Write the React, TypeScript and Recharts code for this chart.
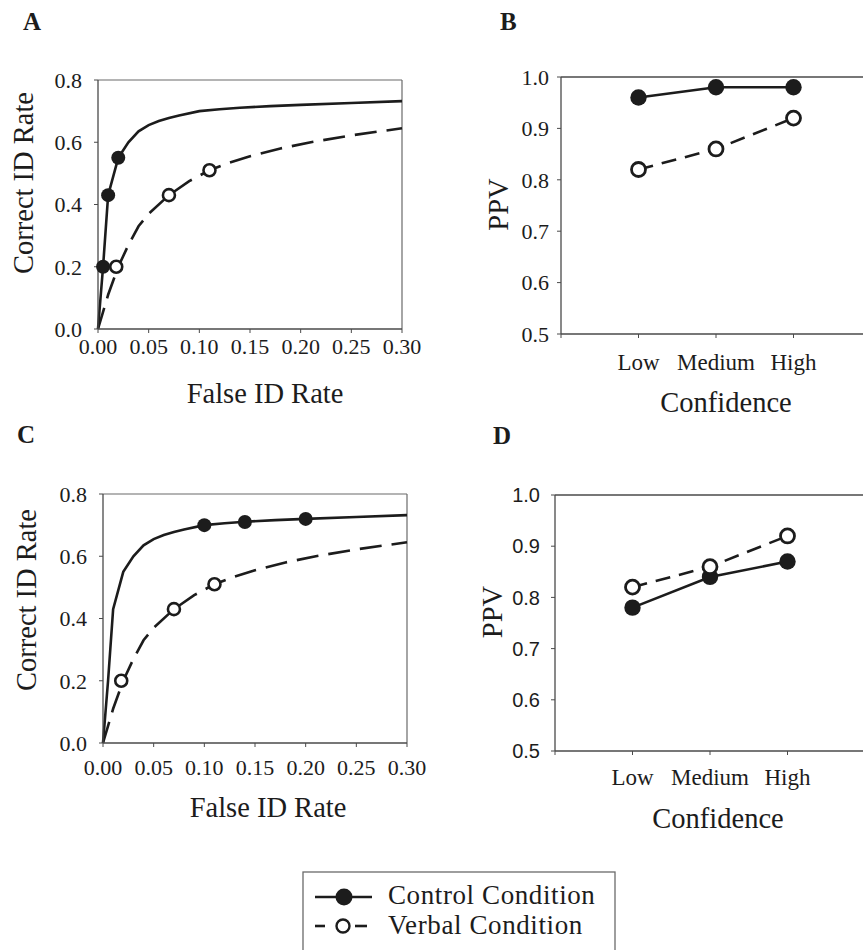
import React from "react";
import { ComposedChart, LineChart, Line, Scatter, XAxis, YAxis, ReferenceLine, Label } from "recharts";

const controlCurveFalse = [0, 0.005, 0.01, 0.02, 0.03, 0.04, 0.05, 0.06, 0.07, 0.08, 0.1, 0.12, 0.14, 0.17, 0.2, 0.25, 0.3];
const controlCurveCorrect = [0, 0.2, 0.43, 0.55, 0.6, 0.635, 0.655, 0.668, 0.678, 0.686, 0.7, 0.706, 0.711, 0.716, 0.72, 0.726, 0.732];
const verbalCurveFalse = [0, 0.005, 0.01, 0.02, 0.03, 0.04, 0.05, 0.07, 0.09, 0.11, 0.13, 0.15, 0.18, 0.21, 0.25, 0.3];
const verbalCurveCorrect = [0, 0.055, 0.11, 0.2, 0.27, 0.33, 0.37, 0.43, 0.475, 0.51, 0.535, 0.555, 0.58, 0.6, 0.622, 0.645];

// observed points
const controlFalseA = [0.005, 0.01, 0.02];
const controlCorrectA = [0.2, 0.43, 0.55];
const controlFalseC = [0.1, 0.14, 0.2];
const controlCorrectC = [0.7, 0.71, 0.72];
const verbalFalse = [0.018, 0.07, 0.11];
const verbalCorrect = [0.2, 0.43, 0.51];

// PPV by confidence
const confidenceLevels = ["Low", "Medium", "High"];
const ppvControlB = [0.96, 0.98, 0.98];
const ppvVerbalB = [0.82, 0.86, 0.92];
const ppvControlD = [0.78, 0.84, 0.87];
const ppvVerbalD = [0.82, 0.86, 0.92];

const falseRateTicks = [0, 0.05, 0.1, 0.15, 0.2, 0.25, 0.3];
const correctRateTicks = [0, 0.2, 0.4, 0.6, 0.8];
const ppvTicks = [0.5, 0.6, 0.7, 0.8, 0.9, 1.0];
const levelTicks = [0, 1, 2, 3, 4];

const SERIF = '"Liberation Serif", "Times New Roman", serif';
const SANS = '"Liberation Sans", Arial, sans-serif';
const INK = "#1c1c1c";
const AXIS = "#4a4a4a";
const FRAME = "#6a6a6a";

const toPoints = (xs: number[], ys: number[]) => xs.map((x, i) => ({ x, y: ys[i] }));
const ppvRows = (control: number[], verbal: number[]) =>
  confidenceLevels.map((_, i) => ({ level: i + 1, control: control[i], verbal: verbal[i] }));

const filledShape = (r: number) => (p: any) =>
  p.cx == null ? <g /> : <circle cx={p.cx} cy={p.cy} r={r} fill={INK} />;
const openShape = (r: number, w: number) => (p: any) =>
  p.cx == null ? <g /> : <circle cx={p.cx} cy={p.cy} r={r} fill="#fff" stroke={INK} strokeWidth={w} />;

const filledDot = (r: number) => (p: any) => (
  <circle key={`f-${p.index}`} cx={p.cx} cy={p.cy} r={r} fill={INK} />
);
const openDot = (r: number, w: number) => (p: any) => (
  <circle key={`o-${p.index}`} cx={p.cx} cy={p.cy} r={r} fill="#fff" stroke={INK} strokeWidth={w} />
);

const xTitle = (text: string, dx: number, dy: number) => ({ viewBox }: any) => (
  <text x={viewBox.x + viewBox.width / 2 + dx} y={viewBox.y + dy} textAnchor="middle" fontFamily={SERIF} fontSize={28.5} fill={INK}>
    {text}
  </text>
);
const yTitle = (text: string, dx: number, dy: number) => ({ viewBox }: any) => {
  const cx = viewBox.x + dx;
  const cy = viewBox.y + viewBox.height / 2 + dy;
  return (
    <text x={cx} y={cy} transform={`rotate(-90 ${cx} ${cy})`} textAnchor="middle" fontFamily={SERIF} fontSize={28.5} fill={INK}>
      {text}
    </text>
  );
};

function RocPanel({ left, top, margin, xTickMargin, yTickMargin, xOff, yOff, controlPoints }: any) {
  return (
    <div style={{ position: "absolute", left, top }}>
      <ComposedChart width={430} height={420} margin={margin}>
        <XAxis
          type="number"
          dataKey="x"
          domain={[0, 0.3]}
          ticks={falseRateTicks}
          interval={0}
          tickFormatter={(v: number) => v.toFixed(2)}
          height={60}
          tickSize={4}
          tickMargin={xTickMargin}
          axisLine={{ stroke: AXIS, strokeWidth: 1.3 }}
          tickLine={{ stroke: AXIS }}
          tick={{ fill: INK, fontSize: 22, fontFamily: SERIF }}
        >
          <Label content={xTitle("False ID Rate", xOff[0], xOff[1])} />
        </XAxis>
        <YAxis
          type="number"
          domain={[0, 0.8]}
          ticks={correctRateTicks}
          interval={0}
          tickFormatter={(v: number) => v.toFixed(1)}
          width={60}
          tickSize={4}
          tickMargin={yTickMargin}
          axisLine={{ stroke: AXIS, strokeWidth: 1.3 }}
          tickLine={{ stroke: AXIS }}
          tick={{ fill: INK, fontSize: 22, fontFamily: SERIF }}
        >
          <Label content={yTitle("Correct ID Rate", yOff[0], yOff[1])} />
        </YAxis>
        <ReferenceLine y={0.8} stroke={FRAME} strokeWidth={1.2} />
        <ReferenceLine x={0.3} stroke={FRAME} strokeWidth={1.2} />
        <Line data={toPoints(verbalCurveFalse, verbalCurveCorrect)} dataKey="y" type="linear" stroke={INK} strokeWidth={2.6} strokeDasharray="22 10" dot={false} isAnimationActive={false} />
        <Line data={toPoints(controlCurveFalse, controlCurveCorrect)} dataKey="y" type="linear" stroke={INK} strokeWidth={2.6} dot={false} isAnimationActive={false} />
        <Scatter data={controlPoints} dataKey="y" shape={filledShape(7)} isAnimationActive={false} />
        <Scatter data={toPoints(verbalFalse, verbalCorrect)} dataKey="y" shape={openShape(6, 2.6)} isAnimationActive={false} />
      </ComposedChart>
    </div>
  );
}

function PpvPanel({ left, top, width, margin, xTickMargin, yTickMargin, yTickFont, xOff, yOff, control, verbal }: any) {
  return (
    <div style={{ position: "absolute", left, top }}>
      <LineChart width={width} height={420} margin={margin} data={ppvRows(control, verbal)}>
        <XAxis
          type="number"
          dataKey="level"
          domain={[0, 4]}
          ticks={levelTicks}
          interval={0}
          tickFormatter={(v: number) => confidenceLevels[v - 1] ?? ""}
          height={50}
          tickSize={4}
          tickMargin={xTickMargin}
          axisLine={{ stroke: AXIS, strokeWidth: 1.3 }}
          tickLine={{ stroke: AXIS }}
          tick={{ fill: INK, fontSize: 23, fontFamily: SERIF }}
        >
          <Label content={xTitle("Confidence", xOff[0], xOff[1])} />
        </XAxis>
        <YAxis
          type="number"
          domain={[0.5, 1]}
          ticks={ppvTicks}
          interval={0}
          tickFormatter={(v: number) => v.toFixed(1)}
          width={60}
          tickSize={4}
          tickMargin={yTickMargin}
          axisLine={{ stroke: AXIS, strokeWidth: 1.3 }}
          tickLine={{ stroke: AXIS }}
          tick={yTickFont}
        >
          <Label content={yTitle("PPV", yOff[0], yOff[1])} />
        </YAxis>
        <ReferenceLine y={1} stroke={AXIS} strokeWidth={1.3} />
        <Line dataKey="control" type="linear" stroke={INK} strokeWidth={2.6} dot={filledDot(8.2)} isAnimationActive={false} />
        <Line dataKey="verbal" type="linear" stroke={INK} strokeWidth={2.6} strokeDasharray="15 9" dot={openDot(7, 2.8)} isAnimationActive={false} />
      </LineChart>
    </div>
  );
}

export default function App() {
  const letter = { fontFamily: SERIF, fontSize: 25, fontWeight: 700, fill: INK } as any;
  const legendText = { fontFamily: SERIF, fontSize: 27, letterSpacing: 0.6, fill: INK } as any;
  return (
    <div style={{ position: "absolute", left: 0, top: 0, width: 863, height: 950, overflow: "hidden", background: "#fff" }}>
      <RocPanel
        left={0}
        top={0}
        margin={{ top: 80, right: 28, bottom: 31, left: 38 }}
        xTickMargin={5}
        yTickMargin={12}
        xOff={[15, 74]}
        yOff={[-5, -21.5]}
        controlPoints={toPoints(controlFalseA, controlCorrectA)}
      />
      <PpvPanel
        left={430}
        top={0}
        width={441}
        margin={{ top: 77, right: 0, bottom: 36, left: 71 }}
        xTickMargin={16}
        yTickMargin={8}
        yTickFont={{ fill: INK, fontSize: 22, fontFamily: SERIF }}
        xOff={[10, 78]}
        yOff={[7, -1]}
        control={ppvControlB}
        verbal={ppvVerbalB}
      />
      <RocPanel
        left={0}
        top={420}
        margin={{ top: 74, right: 23, bottom: 37, left: 43 }}
        xTickMargin={12}
        yTickMargin={12}
        xOff={[13, 74]}
        yOff={[-7, -18.5]}
        controlPoints={toPoints(controlFalseC, controlCorrectC)}
      />
      <PpvPanel
        left={430}
        top={420}
        width={435}
        margin={{ top: 75, right: 0, bottom: 39, left: 65 }}
        xTickMargin={14}
        yTickMargin={11}
        yTickFont={{ fill: INK, fontSize: 20, fontFamily: SANS }}
        xOff={[8, 77]}
        yOff={[7, -11]}
        control={ppvControlD}
        verbal={ppvVerbalD}
      />
      <svg width={863} height={950} style={{ position: "absolute", left: 0, top: 0, pointerEvents: "none" }}>
        <text x={23} y={30} {...letter}>A</text>
        <text x={500} y={30} {...letter}>B</text>
        <text x={17} y={443} {...letter}>C</text>
        <text x={493} y={444} {...letter}>D</text>
        <rect x={303} y={872} width={312} height={100} fill="none" stroke={FRAME} strokeWidth={1.3} />
        <line x1={315} y1={897} x2={372} y2={897} stroke={INK} strokeWidth={2.6} />
        <circle cx={344} cy={897} r={8.5} fill={INK} />
        <text x={388} y={904} {...legendText}>Control Condition</text>
        <line x1={315} y1={926} x2={325} y2={926} stroke={INK} strokeWidth={2.6} />
        <line x1={355} y1={926} x2={367} y2={926} stroke={INK} strokeWidth={2.6} />
        <circle cx={343} cy={926} r={6.5} fill="#fff" stroke={INK} strokeWidth={2.4} />
        <text x={388} y={933.5} {...legendText}>Verbal Condition</text>
      </svg>
    </div>
  );
}
